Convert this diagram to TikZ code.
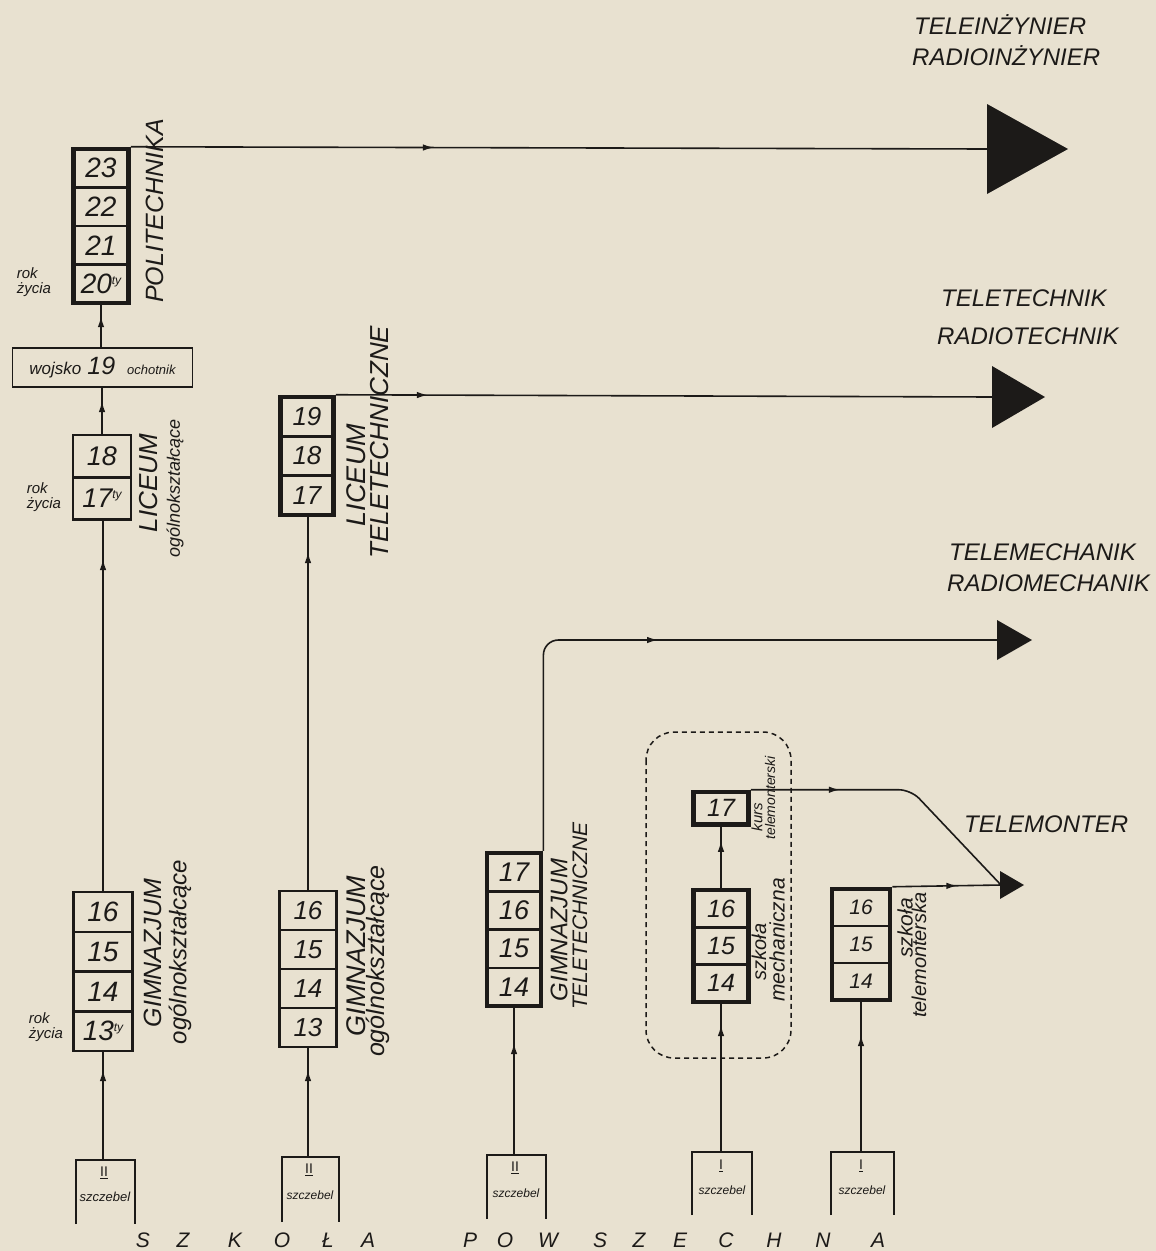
\documentclass[tikz,border=0pt]{standalone}
\usepackage{fontspec}
\setmainfont{Liberation Sans}
\usetikzlibrary{arrows.meta,decorations.markings,fit}
\definecolor{paper}{RGB}{232,225,208}
\definecolor{ink}{RGB}{28,26,24}
\tikzset{
 fs/.style={font=\itshape\fontsize{#1}{#1}\selectfont},
 cell/.style={draw=ink, line width=1.3pt, inner sep=0pt, anchor=north, text=ink},
 thickframe/.style={draw=ink, line width=4.5pt, inner sep=0pt},
 thinframe/.style={draw=ink, line width=2pt, inner sep=0pt},
 conn/.style={draw=ink, line width=1.6pt},
 arrowat/.style={postaction={decorate}, decoration={markings, mark=at position #1 with {\arrow{Latex[length=11pt,width=6.5pt]}}}},
 lab/.style={text=ink, inner sep=0pt},
 vlab/.style={text=ink, inner sep=0pt, rotate=90},
 bracket/.style={draw=ink, line width=2.4pt},
 polcell/.style={cell, fs=28, minimum width=54, minimum height=37.25},
 liccell/.style={cell, fs=27, minimum width=57, minimum height=41},
 gimcell/.style={cell, fs=28, minimum width=58, minimum height=38.5},
 ltcell/.style={cell, fs=26, minimum width=52, minimum height=38},
 gimtcell/.style={cell, fs=26, minimum width=56, minimum height=37.75},
 gtcell/.style={cell, fs=27, minimum width=53, minimum height=37},
 mechcell/.style={cell, fs=25, minimum width=54, minimum height=36},
 tmcell/.style={cell, fs=21, minimum width=57, minimum height=35.7},
}
\newcommand{\tysup}{{\fontsize{12}{12}\selectfont\raisebox{9pt}{ty}}}
\begin{document}
\begin{tikzpicture}[x=1pt,y=-1pt]
\fill[paper] (0,0) rectangle (1156,1251);
\useasboundingbox (0,0) rectangle (1156,1251);

% ---------- column 1 ----------
\node[polcell] (p1) at (101,149) {23};
\node[polcell] (p2) at (p1.south) {22};
\node[polcell] (p3) at (p2.south) {21};
\node[polcell] (p4) at (p3.south) {20\tysup};
\node[thickframe, fit=(p1)(p4)] (pol) {};
\node[vlab, fs=25] (polt) at (155,211) {POLITECHNIKA};
\node[lab, align=left, font=\itshape\fontsize{15}{15}\selectfont] (rok1) at (34,282) {rok\\życia};

\node[draw=ink, line width=1.8pt, minimum width=180, minimum height=39, inner sep=0pt, text=ink] (wojsko) at (102.5,367.5)
  {\itshape\fontsize{17}{17}\selectfont wojsko\hspace{6pt}\fontsize{25}{25}\selectfont 19\hspace{12pt}\fontsize{13}{13}\selectfont ochotnik};

\node[liccell] (l1) at (102,435) {18};
\node[liccell] (l2) at (l1.south) {17\tysup};
\node[thinframe, fit=(l1)(l2)] (lic) {};
\node[lab, align=left, font=\itshape\fontsize{15}{15}\selectfont] (rok2) at (44,497) {rok\\życia};
\node[vlab, fs=26] (lict) at (149,483) {LICEUM};
\node[vlab, fs=18] (licot) at (175,488) {ogólnokształcące};

\node[gimcell] (g1) at (103,892) {16};
\node[gimcell] (g2) at (g1.south) {15};
\node[gimcell] (g3) at (g2.south) {14};
\node[gimcell] (g4) at (g3.south) {13\tysup};
\node[thinframe, fit=(g1)(g4)] (gim) {};
\node[lab, align=left, font=\itshape\fontsize{15}{15}\selectfont] (rok3) at (46,1027) {rok\\życia};
\node[vlab, fs=25] (gimt) at (153,953) {GIMNAZJUM};
\node[vlab, fs=24] (gimot) at (180,952) {ogólnokształcące};

\draw[bracket] (76,1224) |- (135,1160) -- (135,1224);
\coordinate (s1) at (103,1160);
\node[lab, font=\fontsize{14}{14}\selectfont] (s1r) at (104,1173) {\underline{II}};
\node[lab, fs=13] (s1t) at (105,1197) {szczebel};

% ---------- column 2 ----------
\node[ltcell] (lt1) at (307,397) {19};
\node[ltcell] (lt2) at (lt1.south) {18};
\node[ltcell] (lt3) at (lt2.south) {17};
\node[thickframe, fit=(lt1)(lt3)] (lt) {};
\node[vlab, fs=27] (ltt1) at (356,475) {LICEUM};
\node[vlab, fs=26] (ltt2) at (380,442) {TELETECHNICZNE};

\node[gimtcell] (h1) at (308,891) {16};
\node[gimtcell] (h2) at (h1.south) {15};
\node[gimtcell] (h3) at (h2.south) {14};
\node[gimtcell] (h4) at (h3.south) {13};
\node[thinframe, fit=(h1)(h4)] (gim2) {};
\node[vlab, fs=27] (gim2t) at (356,956) {GIMNAZJUM};
\node[vlab, fs=25] (gim2ot) at (378,961) {ogólnokształcące};

\draw[bracket] (282,1222) |- (339,1157) -- (339,1222);
\coordinate (s2) at (308,1157);
\node[lab, font=\fontsize{14}{14}\selectfont] (s2r) at (309,1170) {\underline{II}};
\node[lab, fs=12] (s2t) at (310,1195) {szczebel};

% ---------- column 3 ----------
\node[gtcell] (t1c) at (514,853) {17};
\node[gtcell] (t2c) at (t1c.south) {16};
\node[gtcell] (t3c) at (t2c.south) {15};
\node[gtcell] (t4c) at (t3c.south) {14};
\node[thickframe, fit=(t1c)(t4c)] (gt) {};
\node[vlab, fs=24] (gtt1) at (559,930) {GIMNAZJUM};
\node[vlab, fs=21] (gtt2) at (580,916) {TELETECHNICZNE};

\draw[bracket] (487,1219) |- (546,1155) -- (546,1219);
\coordinate (s3) at (514,1155);
\node[lab, font=\fontsize{14}{14}\selectfont] (s3r) at (515,1168) {\underline{II}};
\node[lab, fs=12] (s3t) at (516,1193) {szczebel};

% ---------- column 4 ----------
\draw[ink, line width=1.5pt, dash pattern=on 5pt off 4pt, rounded corners=28pt] (646,732) rectangle (791,1058);
\node[cell, fs=25, minimum width=54, minimum height=31] (k1) at (721,792) {17};
\node[thickframe, fit=(k1)] (kurs) {};
\node[vlab, fs=15] (kurst) at (757,817) {kurs};
\node[vlab, fs=14] (kursm) at (770,798) {telemonterski};

\node[mechcell] (m1) at (721,890) {16};
\node[mechcell] (m2) at (m1.south) {15};
\node[mechcell] (m3) at (m2.south) {14};
\node[thickframe, fit=(m1)(m3)] (mech) {};
\node[vlab, fs=20] (mecht1) at (759,952) {szkoła};
\node[vlab, fs=21] (mecht2) at (777,940) {mechaniczna};

\draw[bracket] (692,1215) |- (752,1152) -- (752,1215);
\coordinate (s4) at (721,1152);
\node[lab, font=\fontsize{14}{14}\selectfont] (s4r) at (721,1166) {\underline{I}};
\node[lab, fs=12] (s4t) at (722,1190) {szczebel};

% ---------- column 5 ----------
\node[tmcell] (n1) at (861,889) {16};
\node[tmcell] (n2) at (n1.south) {15};
\node[tmcell] (n3) at (n2.south) {14};
\node[thickframe, fit=(n1)(n3)] (tm) {};
\node[vlab, fs=21] (tmt1) at (905,928) {szkoła};
\node[vlab, fs=20] (tmt2) at (919,955) {telemonterska};

\draw[bracket] (831,1215) |- (894,1152) -- (894,1215);
\coordinate (s5) at (861,1152);
\node[lab, font=\fontsize{14}{14}\selectfont] (s5r) at (861,1166) {\underline{I}};
\node[lab, fs=12] (s5t) at (862,1190) {szczebel};

% ---------- end triangles ----------
\fill[ink] (987,104) -- (987,194) -- (1068,149) -- cycle;
\coordinate (e1) at (988,149);
\fill[ink] (992,366) -- (992,428) -- (1045,397) -- cycle;
\coordinate (e2) at (993,397);
\fill[ink] (997,620) -- (997,660) -- (1032,640) -- cycle;
\coordinate (e3) at (998,640);
\fill[ink] (1000,871) -- (1000,899) -- (1024,885) -- cycle;
\coordinate (e4) at (1001,885);

\node[lab, fs=24, anchor=west] (r1a) at (914,25) {TELEINŻYNIER};
\node[lab, fs=24, anchor=west] (r1b) at (912,56) {RADIOINŻYNIER};
\node[lab, fs=24, anchor=west] (r2a) at (941,298) {TELETECHNIK};
\node[lab, fs=24, anchor=west] (r2b) at (937,336) {RADIOTECHNIK};
\node[lab, fs=24, anchor=west] (r3a) at (949,552) {TELEMECHANIK};
\node[lab, fs=24, anchor=west] (r3b) at (947,583) {RADIOMECHANIK};
\node[lab, fs=24, anchor=west] (r4) at (964,824) {TELEMONTER};

% ---------- connectors ----------
\draw[conn, arrowat=90pt] (s1) -- (s1 |- gim.south);
\draw[conn, arrowat=332pt] (gim.north) -- (gim.north |- lic.south);
\draw[conn, arrowat=33pt] (lic.north) -- (lic.north |- wojsko.south);
\draw[conn, arrowat=31pt] (wojsko.north -| pol.south) -- (pol.south);
\draw[conn, arrowat=303pt] (pol.north east) -- (e1);

\draw[conn, arrowat=87pt] (s2) -- (s2 |- gim2.south);
\draw[conn, arrowat=338pt] (gim2.north) -- (gim2.north |- lt.south);
\draw[conn, arrowat=92pt] (lt.north east) -- (e2);

\draw[conn, arrowat=112pt] (s3) -- (s3 |- gt.south);
\draw[conn, rounded corners=15pt, arrowat=319pt] (gt.north east) |- (e3);

\draw[conn, arrowat=127pt] (s4) -- (s4 |- mech.south);
\draw[conn, arrowat=47pt] (mech.north) -- (kurs.south);
\draw[conn, rounded corners=12pt, arrowat=89pt] (kurs.north east) -- ++(160,0) -- (e4);

\draw[conn, arrowat=117pt] (s5) -- (s5 |- tm.south);
\draw[conn, arrowat=65pt] (tm.north east) -- (e4);

% ---------- bottom caption ----------
\foreach \l/\x [count=\i] in {S/143,Z/183,K/235,O/282,Ł/328,A/368,P/470,O/505,W/548,S/600,Z/639,E/680,C/726,H/774,N/823,A/878}
  \node[lab, fs=21] (sp\i) at (\x,1240) {\l};
\end{tikzpicture}
\end{document}
